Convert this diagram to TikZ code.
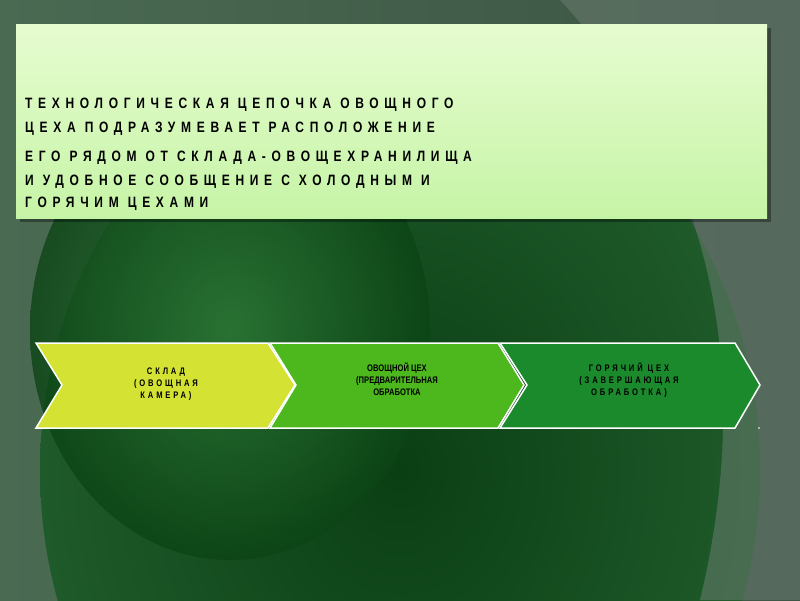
\documentclass[tikz,border=0pt]{standalone}
\usepackage{fontspec}
\setmainfont{Liberation Sans}
\newfontfamily\tfont[LetterSpace=38,FakeStretch=0.8,UprightFont=*-Bold]{Liberation Sans}
\newfontfamily\cfont[LetterSpace=30,FakeStretch=0.8,UprightFont=*-Bold]{Liberation Sans}
\newfontfamily\dfont[FakeStretch=0.8,UprightFont=*-Bold]{Liberation Sans}
\usetikzlibrary{shadings}
\definecolor{bgA}{HTML}{4A6A52}
\definecolor{bgB}{HTML}{3C5444}
\definecolor{dgA}{HTML}{0A3F14}
\definecolor{dgB}{HTML}{1F5A2A}
\definecolor{grR}{HTML}{6A7C70}
\definecolor{mgA}{HTML}{2E7A38}
\definecolor{mgB}{HTML}{0C4415}
\definecolor{tbA}{HTML}{E6FCD0}
\definecolor{tbB}{HTML}{C6F4A6}
\definecolor{chA}{HTML}{D4E234}
\definecolor{chB}{HTML}{4CB81E}
\definecolor{chC}{HTML}{1A8A2C}
\begin{document}
\begin{tikzpicture}[x=1pt,y=-1pt,
  chev/.style={draw=white,line width=1.5pt},
  ttl/.style={anchor=base west,inner sep=0pt,font=\tfont\fontsize{15}{15}\selectfont},
  ctx/.style={align=center,inner sep=0pt}]
\useasboundingbox (0,0) rectangle (800,600);
\fill[left color=bgA,right color=bgB] (0,0) rectangle (800,600);
\begin{scope}
\clip (0,0) rectangle (800,600);
\shade[inner color=dgA,outer color=dgB] (400,470) ellipse (360 and 420);
\fill[grR,opacity=0.55] (560,0) .. controls (700,150) and (760,350) .. (700,600) -- (800,600) -- (800,0) -- cycle;
\shade[inner color=mgA,outer color=mgB,opacity=0.8] (230,330) ellipse (200 and 230);
\end{scope}
\fill[black,opacity=0.35] (20,28) rectangle (771,222);
\shade[top color=tbA,bottom color=tbB] (16,24) rectangle (767,218);
\node[ttl] (l1) at (25,108) {ТЕХНОЛОГИЧЕСКАЯ ЦЕПОЧКА ОВОЩНОГО};
\node[ttl] (l2) at (25,132) {ЦЕХА ПОДРАЗУМЕВАЕТ РАСПОЛОЖЕНИЕ};
\node[ttl] (l3) at (25,161) {ЕГО РЯДОМ ОТ СКЛАДА-ОВОЩЕХРАНИЛИЩА};
\node[ttl] (l4) at (25,185) {И УДОБНОЕ СООБЩЕНИЕ С ХОЛОДНЫМ И};
\node[ttl] (l5) at (25,207) {ГОРЯЧИМ ЦЕХАМИ};
\draw[chev,fill=chA] (36,343) -- (268,343) -- (295,385) -- (268,428) -- (36,428) -- (62,385) -- cycle;
\draw[chev,fill=chB] (270,343) -- (498,343) -- (524,385) -- (498,428) -- (270,428) -- (296,385) -- cycle;
\draw[chev,fill=chC] (500,343) -- (735,343) -- (760,385) -- (735,428) -- (500,428) -- (527,385) -- cycle;
\node[ctx,font=\cfont\fontsize{9.5}{12}\selectfont] (c1) at (166,384) {СКЛАД\\(ОВОЩНАЯ\\КАМЕРА)};
\node[ctx,font=\dfont\fontsize{9.5}{12}\selectfont] (c2) at (397,379) {ОВОЩНОЙ ЦЕХ\\(ПРЕДВАРИТЕЛЬНАЯ\\ОБРАБОТКА};
\node[ctx,font=\cfont\fontsize{9.5}{12}\selectfont] (c3) at (629,380) {ГОРЯЧИЙ ЦЕХ\\(ЗАВЕРШАЮЩАЯ\\ОБРАБОТКА)};
\fill[white] (759,428) circle (0.8);
\end{tikzpicture}
\end{document}
